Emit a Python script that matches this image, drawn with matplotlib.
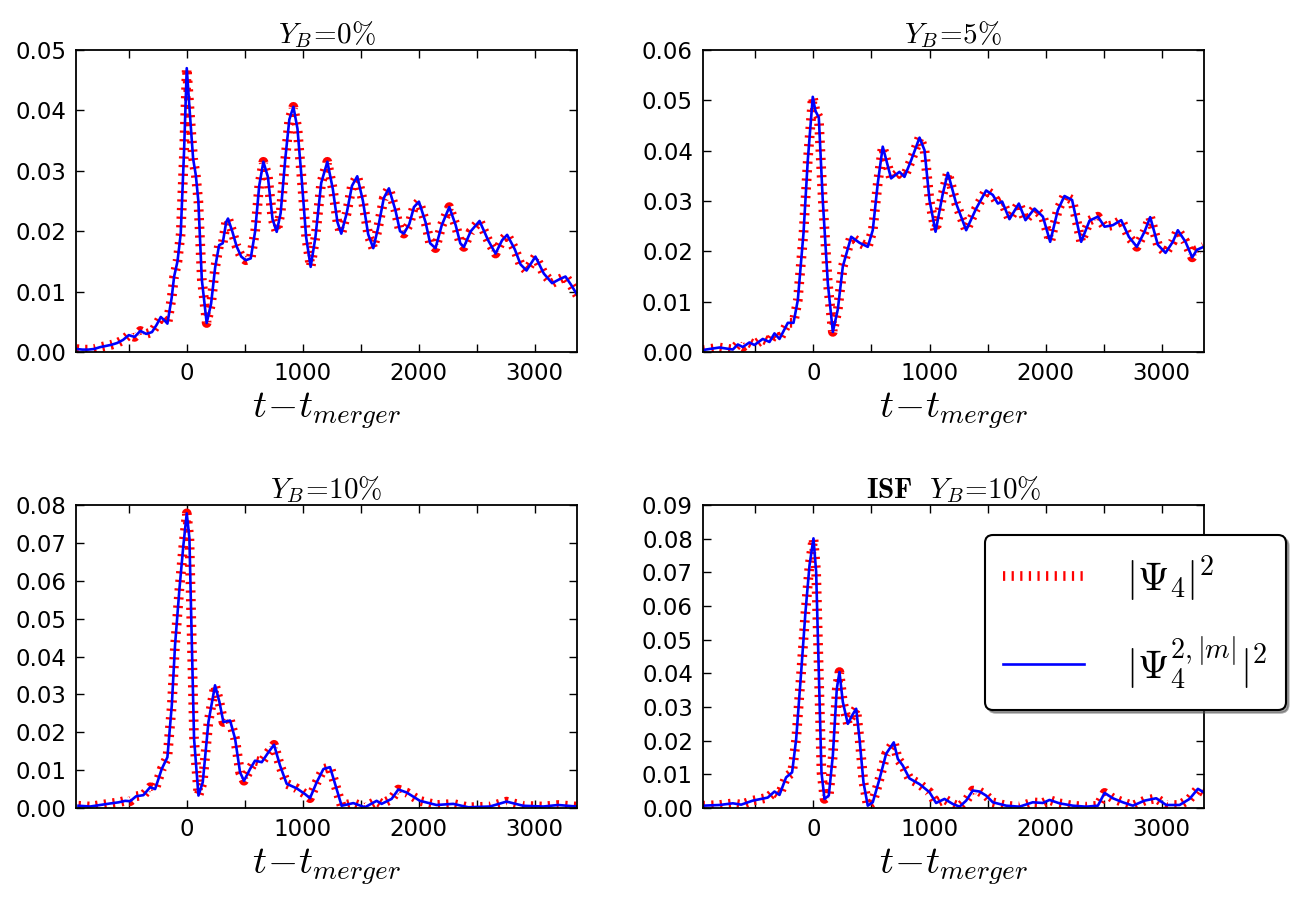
import numpy as np
import matplotlib
matplotlib.use("Agg")
import matplotlib.pyplot as plt

plt.rcParams['mathtext.fontset'] = 'cm'
plt.rcParams['font.family'] = ['DejaVu Sans']
plt.rcParams['lines.scale_dashes'] = False

# Y_B = 0%
t_yb0 = [-950, -900, -850, -800, -750, -700, -650, -600, -550, -500, -450, -400, -350, -300,
         -260, -224, -190, -167, -130, -109, -80, -52, -23, 0, 25, 55, 78, 100, 130, 172,
         210, 245, 279, 310, 340, 356, 394, 430, 470, 509, 552, 590, 625, 661, 700, 740,
         776, 810, 850, 885, 920, 955, 990, 1030, 1069, 1110, 1160, 1213, 1260, 1300, 1333,
         1380, 1425, 1471, 1520, 1565, 1609, 1650, 1700, 1744, 1800, 1840, 1873, 1920, 1960,
         2003, 2060, 2100, 2146, 2200, 2265, 2320, 2360, 2391, 2450, 2526, 2600, 2664, 2720,
         2764, 2830, 2880, 2931, 3008, 3080, 3152, 3210, 3267, 3320, 3370]
psi_yb0 = [0.0005, 0.0004, 0.0004, 0.0005, 0.0008, 0.0010, 0.0012, 0.0015, 0.0020, 0.0028,
           0.0025, 0.0035, 0.0030, 0.0033, 0.0045, 0.0058, 0.0052, 0.0047, 0.0090, 0.0125,
           0.0150, 0.0196, 0.0334, 0.0470, 0.0400, 0.0320, 0.0293, 0.0250, 0.0120, 0.0048,
           0.0080, 0.0140, 0.0177, 0.0180, 0.0215, 0.0221, 0.0199, 0.0175, 0.0158, 0.0152,
           0.0155, 0.0200, 0.0275, 0.0315, 0.0290, 0.0220, 0.0199, 0.0230, 0.0320, 0.0385,
           0.0406, 0.0370, 0.0290, 0.0190, 0.0141, 0.0190, 0.0280, 0.0315, 0.0270, 0.0215,
           0.0196, 0.0230, 0.0275, 0.0291, 0.0250, 0.0195, 0.0172, 0.0205, 0.0255, 0.0271,
           0.0235, 0.0200, 0.0196, 0.0212, 0.0240, 0.0249, 0.0215, 0.0180, 0.0172, 0.0210,
           0.0240, 0.0210, 0.0180, 0.0174, 0.0200, 0.0217, 0.0185, 0.0163, 0.0185, 0.0194,
           0.0170, 0.0145, 0.0135, 0.0158, 0.0130, 0.0114, 0.0120, 0.0125, 0.0110, 0.0094]

# Y_B = 5%
t_yb5 = [-954, -810, -695, -652, -609, -552, -509, -437, -379, -336, -293, -221, -172, -135,
         -86, -49, -6, 17, 46, 80, 124, 167, 210, 253, 325, 397, 468, 511, 554, 597, 669,
         741, 784, 842, 914, 957, 1000, 1052, 1115, 1158, 1230, 1316, 1402, 1488, 1546, 1589,
         1626, 1689, 1770, 1827, 1905, 1977, 2040, 2106, 2163, 2229, 2307, 2379, 2451, 2509,
         2580, 2652, 2718, 2787, 2853, 2902, 2968, 3034, 3097, 3140, 3206, 3264, 3304, 3362]
psi_yb5 = [0.0004, 0.0009, 0.0005, 0.0015, 0.0010, 0.0019, 0.0014, 0.0026, 0.0020, 0.0037,
           0.0026, 0.0058, 0.0058, 0.0103, 0.0236, 0.0381, 0.0507, 0.0479, 0.0466, 0.0302,
           0.0136, 0.0040, 0.0085, 0.0170, 0.0229, 0.0217, 0.0209, 0.0242, 0.0335, 0.0408,
           0.0345, 0.0358, 0.0348, 0.0381, 0.0426, 0.0401, 0.0302, 0.0239, 0.0315, 0.0356,
           0.0295, 0.0242, 0.0285, 0.0321, 0.0312, 0.0295, 0.0299, 0.0264, 0.0295, 0.0262,
           0.0285, 0.0269, 0.0219, 0.0282, 0.0310, 0.0302, 0.0219, 0.0261, 0.0269, 0.0249,
           0.0252, 0.0262, 0.0229, 0.0209, 0.0239, 0.0268, 0.0213, 0.0197, 0.0219, 0.0242,
           0.0219, 0.0188, 0.0203, 0.0209]

# Y_B = 10%
t_yb10 = [-934, -833, -747, -661, -589, -531, -488, -437, -374, -316, -273, -216, -167, -129,
          -101, -63, -29, 0, 23, 43, 63, 101, 138, 187, 244, 282, 316, 374, 417, 460, 494,
          546, 589, 647, 704, 753, 805, 862, 948, 1020, 1063, 1121, 1179, 1236, 1293, 1336,
          1437, 1537, 1638, 1681, 1767, 1825, 1897, 2012, 2155, 2299, 2428, 2615, 2759, 2902,
          3075, 3204, 3362]
psi_yb10 = [0.0006, 0.0004, 0.0008, 0.0012, 0.0015, 0.0019, 0.0018, 0.0031, 0.0034, 0.0055,
            0.0050, 0.0103, 0.0134, 0.0271, 0.0430, 0.0579, 0.0694, 0.0778, 0.0712, 0.0447,
            0.0183, 0.0033, 0.0068, 0.0227, 0.0324, 0.0280, 0.0227, 0.0231, 0.0183, 0.0094,
            0.0072, 0.0103, 0.0125, 0.0121, 0.0147, 0.0167, 0.0112, 0.0064, 0.0052, 0.0037,
            0.0026, 0.0068, 0.0103, 0.0108, 0.0050, 0.0006, 0.0013, 0.0002, 0.0019, 0.0011,
            0.0024, 0.0049, 0.0041, 0.0019, 0.0008, 0.0011, 0.0002, 0.0004, 0.0017, 0.0006,
            0.0004, 0.0008, 0.0004]

# ISF Y_B = 10%
t_isf = [-954, -810, -695, -623, -523, -451, -394, -336, -293, -236, -184, -149, -106, -69,
         -34, 0, 23, 46, 69, 95, 132, 167, 201, 224, 253, 296, 333, 368, 397, 431, 468, 511,
         569, 626, 692, 727, 770, 827, 914, 1000, 1057, 1129, 1201, 1259, 1316, 1373, 1431,
         1488, 1546, 1661, 1775, 1890, 1977, 2034, 2120, 2235, 2350, 2451, 2509, 2580, 2666,
         2753, 2853, 2954, 3040, 3155, 3241, 3313, 3362]
psi_isf = [0.0007, 0.0009, 0.0014, 0.0010, 0.0022, 0.0027, 0.0031, 0.0049, 0.0039, 0.0091,
           0.0106, 0.0205, 0.0404, 0.0582, 0.0721, 0.0801, 0.0702, 0.0404, 0.0106, 0.0027,
           0.0037, 0.0156, 0.0354, 0.0404, 0.0315, 0.0250, 0.0275, 0.0295, 0.0205, 0.0076,
           0.0007, 0.0017, 0.0086, 0.0161, 0.0195, 0.0146, 0.0126, 0.0088, 0.0071, 0.0047,
           0.0015, 0.0027, 0.0012, 0.0004, 0.0022, 0.0052, 0.0049, 0.0037, 0.0017, 0.0007,
           0.0004, 0.0017, 0.0015, 0.0024, 0.0014, 0.0007, 0.0004, 0.0007, 0.0045, 0.0029,
           0.0017, 0.0007, 0.0022, 0.0029, 0.0009, 0.0009, 0.0027, 0.0057, 0.0047]

titles = [r"$Y_B\!=\!0\%$", r"$Y_B\!=\!5\%$", r"$Y_B\!=\!10\%$", r"$\mathbf{ISF}\ \ Y_B\!=\!10\%$"]
series = [(t_yb0, psi_yb0), (t_yb5, psi_yb5), (t_yb10, psi_yb10), (t_isf, psi_isf)]
ymax = [0.05, 0.06, 0.08, 0.09]
xticks = [-500, 0, 500, 1000, 1500, 2000, 2500, 3000]
xticklabels = ['', '0', '', '1000', '', '2000', '', '3000']

fig = plt.figure(figsize=(13, 9.08), dpi=100)
fig.patch.set_facecolor('white')
boxes = [[0.0585, 0.6123, 0.3852, 0.3326],
         [0.5405, 0.6123, 0.3856, 0.3326],
         [0.0585, 0.1101, 0.3852, 0.3337],
         [0.5405, 0.1101, 0.3856, 0.3337]]

for i in range(4):
    ax = fig.add_axes(boxes[i])
    t, psi = series[i]
    ax.plot(t, psi, color='r', lw=7, dashes=(1.6, 4.6), dash_capstyle='butt',
            label=r"$|\Psi_4|^2$")
    ax.plot(t, psi, color='b', lw=1.9, label=r"$|\Psi_4^{2,|m|}|^2$")
    ax.set_xlim(-955, 3365)
    ax.set_ylim(0, ymax[i])
    ax.set_xticks(xticks)
    ax.set_xticklabels(xticklabels)
    ax.set_yticks(np.arange(0, ymax[i] + 0.001, 0.01))
    ax.tick_params(direction='in', top=True, right=True, length=6, width=1,
                   labelsize=16.5, pad=7)
    for s in ax.spines.values():
        s.set_linewidth(1.3)
    ax.set_title(titles[i], fontsize=21, pad=5)
    ax.set_xlabel(r"$t\!-\!t_{merger}$", fontsize=28, labelpad=4)
    if i == 3:
        leg = ax.legend(loc='upper left', bbox_to_anchor=(985 / 1300, 1 - 535 / 908),
                        bbox_transform=fig.transFigure, borderaxespad=0, fontsize=29,
                        handlelength=2.0, handletextpad=1.05, labelspacing=0.75,
                        borderpad=0.45, fancybox=True, shadow=True, framealpha=1)
        leg.get_frame().set_edgecolor('black')
        leg.get_frame().set_linewidth(1.5)

fig.savefig('out.png', dpi=100, facecolor='white')
